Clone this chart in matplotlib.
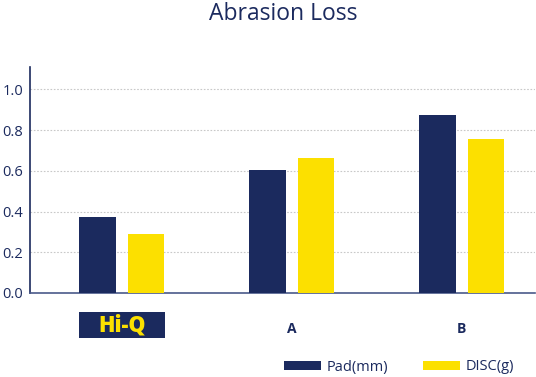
import matplotlib.pyplot as plt
from matplotlib.patches import Rectangle
import numpy as np

# Abrasion loss comparison chart
categories = ["Hi-Q", "A", "B"]
pad_mm = [0.375, 0.605, 0.875]
disc_g = [0.29, 0.665, 0.755]
series_names = ["Pad(mm)", "DISC(g)"]

NAVY = "#1b2a5e"
YELLOW = "#fce000"

plt.rcParams['font.family'] = ['Open Sans', 'DejaVu Sans']

fig = plt.figure(figsize=(5.36, 3.77), dpi=100)
ax = fig.add_axes([30 / 536, 1 - 293 / 377, 505 / 536, (293 - 67) / 377])

x = np.arange(len(categories))
width = 0.215
offset = 0.143
b1 = ax.bar(x - offset, pad_mm, width, color=NAVY, label=series_names[0], zorder=3)
b2 = ax.bar(x + offset, disc_g, width, color=YELLOW, label=series_names[1], zorder=3)

ax.set_xlim(-0.54, 2.43)
ax.set_ylim(0, 1.11)
ax.set_yticks([0, 0.2, 0.4, 0.6, 0.8, 1.0])
ax.set_yticklabels(["0.0", "0.2", "0.4", "0.6", "0.8", "1.0"])
ax.tick_params(axis='y', length=0, pad=5, labelsize=10.5, labelcolor=NAVY)
ax.grid(axis='y', color='#c8c8c8', linestyle=(0, (1.5, 1.5)), linewidth=0.8, zorder=0)

ax.set_xticks(x)
ax.set_xticklabels(["", "A", "B"], fontweight='bold', color=NAVY, fontsize=10)
ax.tick_params(axis='x', length=0, pad=21)

# boxed Hi-Q label
trans = ax.get_xaxis_transform()
ax.add_patch(Rectangle((x[0] - 0.25, -0.199), 0.506, 0.115, transform=trans,
                       facecolor=NAVY, edgecolor='none', clip_on=False))
ax.text(x[0], -0.143, "Hi-Q", transform=trans, ha='center', va='center',
        fontsize=15.5, fontweight='heavy', color=YELLOW)

for side in ['top', 'right']:
    ax.spines[side].set_visible(False)
ax.spines['left'].set_color(NAVY)
ax.spines['left'].set_linewidth(1.2)
ax.spines['bottom'].set_color('#4a5a8a')
ax.spines['bottom'].set_linewidth(1.2)

fig.text(0.528, 1 - 14 / 377, "Abrasion Loss", ha='center', va='center',
         fontsize=16.5, color=NAVY)

fig.legend(handles=[b1, b2], labels=series_names, loc='center left',
           bbox_to_anchor=(271 / 536, 1 - 367 / 377), ncol=2, frameon=False,
           handlelength=2.5, handleheight=0.55, columnspacing=2.4, handletextpad=0.4,
           labelcolor=NAVY, fontsize=10.5)

fig.savefig("out.png", dpi=100)
